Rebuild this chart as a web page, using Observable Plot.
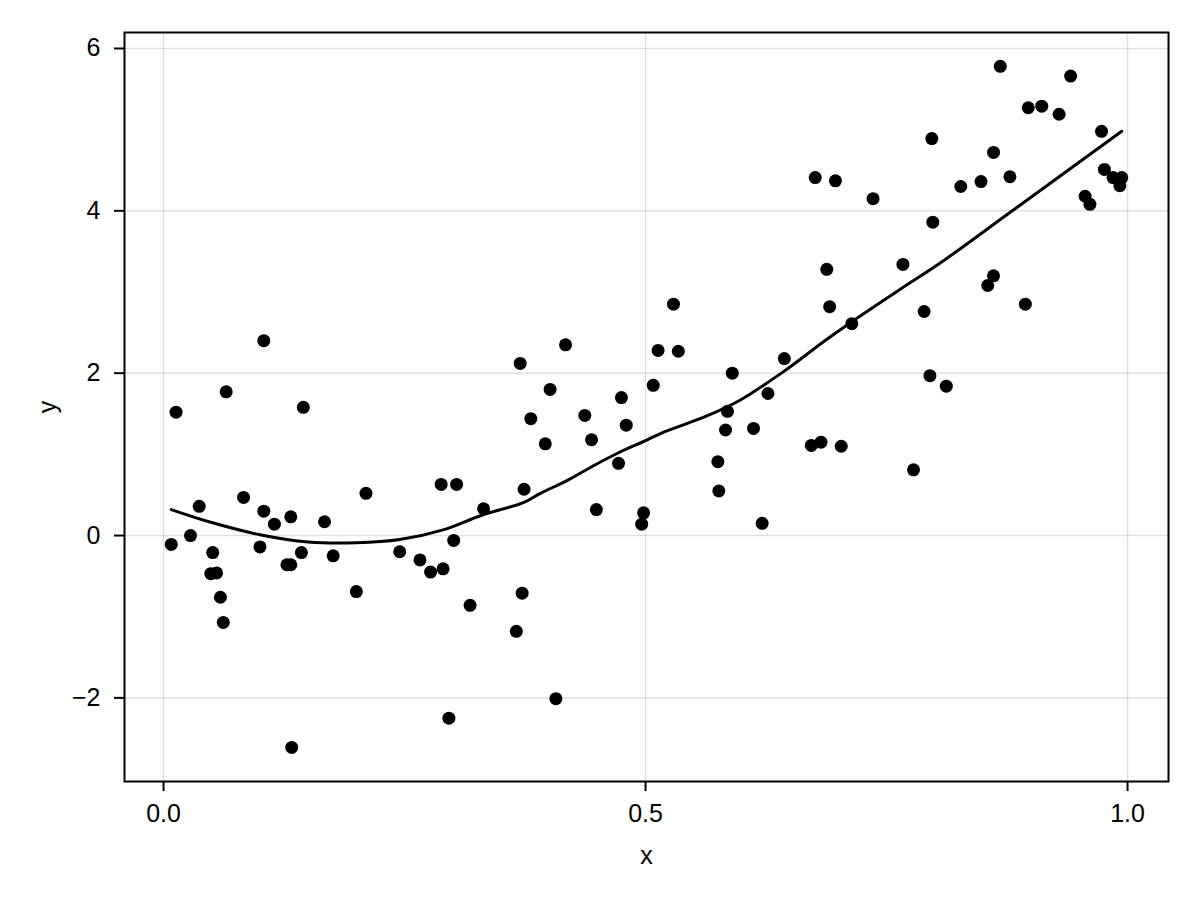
<!DOCTYPE html>
<html>
<head>
<meta charset="utf-8">
<script src="https://cdn.jsdelivr.net/npm/d3@7"></script>
<script src="https://cdn.jsdelivr.net/npm/@observablehq/plot@0.6"></script>
<style>
  html, body { margin: 0; padding: 0; background: #fff; }
  #chart { width: 1200px; height: 900px; }
</style>
</head>
<body>
<div id="chart"></div>
<script>
// Scatter data
const xs = [
  0.008, 0.013, 0.028, 0.037, 0.049, 0.051, 0.055, 0.059, 0.062, 0.065,
  0.083, 0.100, 0.104, 0.104, 0.115, 0.128, 0.132, 0.132, 0.133, 0.143,
  0.145, 0.167, 0.176, 0.200, 0.210, 0.245, 0.266, 0.277, 0.290, 0.288,
  0.304, 0.301, 0.296, 0.318, 0.332, 0.366, 0.372, 0.374, 0.370, 0.381,
  0.396, 0.401, 0.407, 0.417, 0.437, 0.444, 0.449, 0.472, 0.475, 0.480,
  0.498, 0.496, 0.508, 0.513, 0.676, 0.697, 0.736, 0.688, 0.767, 0.529,
  0.691, 0.789, 0.714, 0.534, 0.644, 0.590, 0.795, 0.627, 0.585, 0.583,
  0.612, 0.672, 0.682, 0.703, 0.575, 0.778, 0.576, 0.621, 0.868, 0.941,
  0.897, 0.911, 0.929, 0.797, 0.861, 0.973, 0.827, 0.848, 0.878, 0.976,
  0.985, 0.994, 0.992, 0.956, 0.961, 0.798, 0.861, 0.855, 0.894, 0.812
];
const ys = [
  -0.11, 1.52, 0.00, 0.36, -0.47, -0.21, -0.46, -0.76, -1.07, 1.77,
  0.47, -0.14, 2.40, 0.30, 0.14, -0.36, -0.36, 0.23, -2.61, -0.21,
  1.58, 0.17, -0.25, -0.69, 0.52, -0.20, -0.30, -0.45, -0.41, 0.63,
  0.63, -0.06, -2.25, -0.86, 0.33, -1.18, -0.71, 0.57, 2.12, 1.44,
  1.13, 1.80, -2.01, 2.35, 1.48, 1.18, 0.32, 0.89, 1.70, 1.36,
  0.28, 0.14, 1.85, 2.28, 4.41, 4.37, 4.15, 3.28, 3.34, 2.85,
  2.82, 2.76, 2.61, 2.27, 2.18, 2.00, 1.97, 1.75, 1.53, 1.30,
  1.32, 1.11, 1.15, 1.10, 0.91, 0.81, 0.55, 0.15, 5.78, 5.66,
  5.27, 5.29, 5.19, 4.89, 4.72, 4.98, 4.30, 4.36, 4.42, 4.51,
  4.41, 4.41, 4.31, 4.18, 4.08, 3.86, 3.20, 3.08, 2.85, 1.84
];

// Smooth (loess-like) fit line
const fitX = [0.008, 0.05, 0.10, 0.15, 0.20, 0.245, 0.29, 0.33, 0.374, 0.391,
  0.419, 0.446, 0.472, 0.50, 0.516, 0.563, 0.597, 0.642, 0.686, 0.711,
  0.765, 0.806, 0.878, 0.994];
const fitY = [0.32, 0.16, 0.01, -0.08, -0.09, -0.05, 0.07, 0.25, 0.41, 0.52,
  0.68, 0.86, 1.02, 1.17, 1.26, 1.47, 1.66, 2.01, 2.40, 2.61,
  3.04, 3.36, 3.98, 4.98];

const xTicks = [0, 0.5, 1.0];
const yTicks = [-2, 0, 2, 4, 6];
const xDomain = [-0.0405, 1.0425];
const yDomain = [-3.03, 6.197];

const points = xs.map((x, i) => ({x, y: ys[i]}));
const fit = fitX.map((x, i) => ({x, y: fitY[i]}));

const font = "'Liberation Sans', Arial, Helvetica, sans-serif";
const fs = 25;

const chart = Plot.plot({
  width: 1200,
  height: 900,
  marginLeft: 124,
  marginRight: 32,
  marginTop: 32,
  marginBottom: 119,
  style: {fontFamily: font, fontSize: fs + "px", background: "#fff", color: "#000"},
  x: {domain: xDomain},
  y: {domain: yDomain},
  marks: [
    Plot.gridX(xTicks, {stroke: "#000", strokeOpacity: 0.12, strokeWidth: 1.5}),
    Plot.gridY(yTicks, {stroke: "#000", strokeOpacity: 0.12, strokeWidth: 1.5}),
    Plot.axisX(xTicks, {
      tickFormat: d => d.toFixed(1), tickSize: 10, tickPadding: 13,
      strokeWidth: 2, fontSize: fs, label: "x", labelAnchor: "center",
      labelArrow: "none", labelOffset: 82
    }),
    Plot.axisY(yTicks, {
      tickFormat: d => (d < 0 ? "\u2212" + Math.abs(d) : String(d)),
      tickSize: 10, tickPadding: 14, strokeWidth: 2, fontSize: fs,
      label: "y", labelAnchor: "center", labelArrow: "none", labelOffset: 86
    }),
    Plot.dot(points, {x: "x", y: "y", r: 6.5, fill: "#000", stroke: "none"}),
    Plot.line(fit, {x: "x", y: "y", stroke: "#000", strokeWidth: 3, curve: "catmull-rom"}),
    Plot.frame({stroke: "#000", strokeWidth: 2})
  ]
});
document.getElementById("chart").appendChild(chart);
</script>
</body>
</html>
